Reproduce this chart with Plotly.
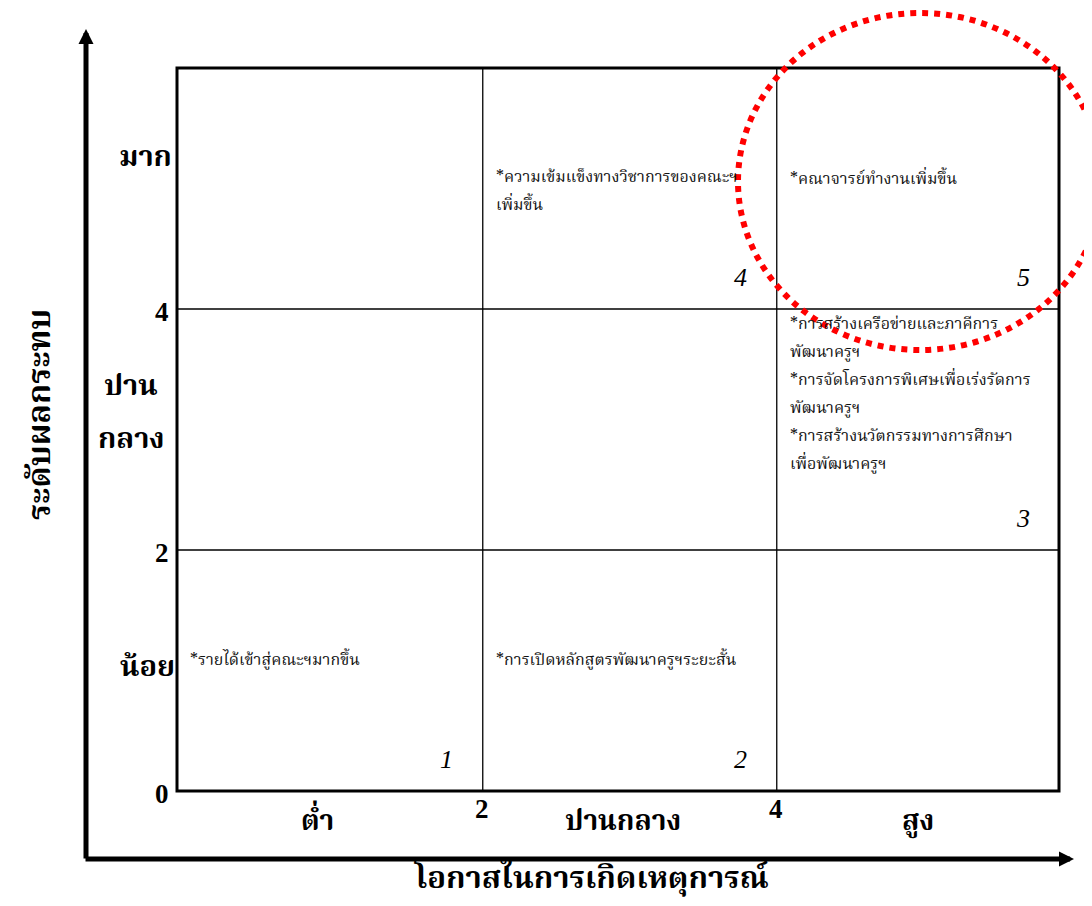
import plotly.graph_objects as go

# grid edges (x edges, cells are slightly unequal)
x_edges = [0, 2.08, 4.08, 6]
y_edges = [0, 2, 4, 6]
x_edge_labels = ["", "2", "4", ""]
y_edge_labels = ["0", "2", "4", ""]

x_levels = ["ต่ำ", "ปานกลาง", "สูง"]
y_levels = [["น้อย"], ["ปาน", "กลาง"], ["มาก"]]

x_title = "โอกาสในการเกิดเหตุการณ์"
y_title = "ระดับผลกระทบ"

# cells that hold items: column, row, score, text lines
cell_col = [0, 1, 2, 1, 2]
cell_row = [0, 0, 1, 2, 2]
cell_score = [1, 2, 3, 4, 5]
cell_text = [
    ["*รายได้เข้าสู่คณะฯมากขึ้น"],
    ["*การเปิดหลักสูตรพัฒนาครูฯระยะสั้น"],
    ["*การสร้างเครือข่ายและภาคีการ", "พัฒนาครูฯ",
     "*การจัดโครงการพิเศษเพื่อเร่งรัดการ", "พัฒนาครูฯ",
     "*การสร้างนวัตกรรมทางการศึกษา", "เพื่อพัฒนาครูฯ"],
    ["*ความเข้มแข็งทางวิชาการของคณะฯ", "เพิ่มขึ้น"],
    ["*คณาจารย์ทำงานเพิ่มขึ้น"],
]

THAI = "Noto Serif Thai, Noto Sans Thai, Norasi, Loma, Liberation Serif, serif"
SERIF = "Liberation Serif, Times New Roman, serif"

# the page body has an 8px margin, so the figure is a bit smaller than the window
OFF = 8
W, H = 1092 - OFF, 906 - OFF
L, R, T, B = 177 - OFF, W + OFF - 1059, 68 - OFF, 906 - 791
pw, ph = W - L - R, H - T - B

def px(x):  # page pixel -> paper x
    return (x - OFF - L) / pw

def py(y):  # page pixel -> paper y
    return (OFF + H - B - y) / ph

fig = go.Figure()
fig.add_trace(go.Scatter(x=[x_edges[0], x_edges[-1]], y=[y_edges[0], y_edges[-1]],
                         mode="markers", marker_opacity=0, hoverinfo="skip", showlegend=False))

shapes = []
# inner grid lines
for xe in x_edges[1:-1]:
    shapes.append(dict(type="line", xref="x", yref="y", x0=xe, x1=xe, y0=y_edges[0], y1=y_edges[-1],
                       line=dict(color="black", width=1.3)))
for ye in y_edges[1:-1]:
    shapes.append(dict(type="line", xref="x", yref="y", y0=ye, y1=ye, x0=x_edges[0], x1=x_edges[-1],
                       line=dict(color="black", width=1.3)))
# outer box (paper refs so the thick border is not clipped)
shapes.append(dict(type="rect", xref="paper", yref="paper", x0=0, x1=1, y0=0, y1=1,
                   line=dict(color="black", width=3)))
# red dotted circle round the top-right cell
shapes.append(dict(type="circle", xref="paper", yref="paper",
                   x0=px(738), x1=px(1102), y0=py(350), y1=py(13),
                   line=dict(color="#ff0000", width=6, dash="dot")))

ann = []
# cell texts
text_top = {0: 111, 1: 111, 2: 16, 3: 110, 4: 112}
for i, lines in enumerate(cell_text):
    c, r = cell_col[i], cell_row[i]
    for j, line in enumerate(lines):
        ann.append(dict(x=x_edges[c], y=y_edges[r + 1], xref="x", yref="y", text=line,
                        showarrow=False, xanchor="left", yanchor="middle",
                        xshift=11, yshift=-(text_top[i] + 28 * j),
                        font=dict(family=THAI, size=16, color="#111")))
    ann.append(dict(x=x_edges[c + 1], y=y_edges[r], xref="x", yref="y",
                    text="<i>%d</i>" % cell_score[i],
                    showarrow=False, xanchor="center", yanchor="middle",
                    xshift=-36, yshift=32,
                    font=dict(family=SERIF, size=26, color="black")))

# edge numbers
for xe, lab in zip(x_edges, x_edge_labels):
    if lab:
        ann.append(dict(x=xe, y=0, xref="x", yref="paper", text="<b>%s</b>" % lab, showarrow=False,
                        xanchor="center", yanchor="middle", yshift=-18, xshift=-1,
                        font=dict(family=SERIF, size=27, color="black")))
for ye, lab in zip(y_edges, y_edge_labels):
    if lab:
        ann.append(dict(x=0, y=ye, xref="paper", yref="y", text="<b>%s</b>" % lab, showarrow=False,
                        xanchor="center", yanchor="middle", yshift=-3, xshift=-15,
                        font=dict(family=SERIF, size=27, color="black")))

# category labels
for k, lab in enumerate(x_levels):
    ann.append(dict(x=(x_edges[k] + x_edges[k + 1]) / 2, y=0, xref="x", yref="paper",
                    text="<b>%s</b>" % lab, showarrow=False, xanchor="center", yanchor="middle",
                    yshift=-31, xshift=[-12, -7, 0][k],
                    font=dict(family=THAI, size=28, color="black")))
y_shift = [3, 16, 31]
y_xshift = [-30, -46, -32]
for k, lines in enumerate(y_levels):
    n = len(lines)
    for j, line in enumerate(lines):
        ann.append(dict(x=0, y=(y_edges[k] + y_edges[k + 1]) / 2, xref="paper", yref="y",
                        text="<b>%s</b>" % line, showarrow=False, xanchor="center", yanchor="middle",
                        yshift=y_shift[k] + 53 * ((n - 1) / 2 - j),
                        xshift=y_xshift[k], font=dict(family=THAI, size=29, color="black")))

# axis titles
ann.append(dict(x=px(591), y=py(880), xref="paper", yref="paper", text="<b>%s</b>" % x_title,
                showarrow=False, xanchor="center", yanchor="middle",
                font=dict(family=THAI, size=31, color="black")))
ann.append(dict(x=px(42), y=py(415), xref="paper", yref="paper", text="<b>%s</b>" % y_title,
                showarrow=False, textangle=-90, xanchor="center", yanchor="middle",
                font=dict(family=THAI, size=32, color="black")))

# axis arrows
ann.append(dict(x=px(86), y=py(29), xref="paper", yref="paper", ax=0, ay=831, text="",
                showarrow=True, arrowhead=2, arrowsize=0.6, arrowwidth=5, arrowcolor="black", standoff=0))
ann.append(dict(x=px(1074), y=py(859), xref="paper", yref="paper", ax=-990, ay=0, text="",
                showarrow=True, arrowhead=2, arrowsize=0.6, arrowwidth=5, arrowcolor="black", standoff=0))

fig.update_layout(
    width=W, height=H,
    margin=dict(l=L, r=R, t=T, b=B),
    plot_bgcolor="white", paper_bgcolor="white",
    xaxis=dict(range=[x_edges[0], x_edges[-1]], visible=False, fixedrange=True),
    yaxis=dict(range=[y_edges[0], y_edges[-1]], visible=False, fixedrange=True),
    shapes=shapes, annotations=ann, showlegend=False,
)

fig.write_html("out.html")
